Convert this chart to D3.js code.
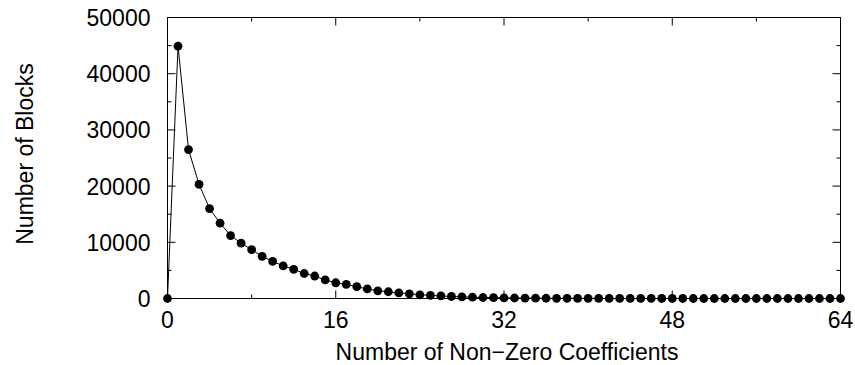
<!DOCTYPE html>
<html>
  <head>
    <meta charset="utf-8">
    <title>Non-zero coefficients per block</title>
    <script src="https://d3js.org/d3.v7.min.js" charset="utf-8"></script>
    <style>
      body{
        margin: 0;
        background: white;
      }
      svg text{
        font-family: 'Liberation Sans', Arial, sans-serif;
        fill: black;
      }
    </style>
  </head>
  <body>
    <div id="chart"></div>
    <script>

    //********************
    // data
    //********************

    // number of non-zero coefficients (x) -> number of blocks (y)
    var coefficients = d3.range(0, 65);
    var blocks = [
        0, 44900, 26500, 20300, 16000, 13400, 11200, 9850, 8700, 7500,
        6600, 5800, 5200, 4450, 4000, 3300, 2800, 2500, 2100, 1700,
        1370, 1200, 1000, 840, 660, 550, 450, 360, 290, 230,
        180, 140, 110, 90, 70, 55, 45, 35, 28, 22,
        18, 14, 11, 9, 7, 6, 5, 4, 3, 3,
        2, 2, 2, 1, 1, 1, 1, 1, 0, 0,
        0, 0, 0, 0, 0
    ];
    var xTicks = [0, 16, 32, 48, 64];
    var xMinor = [8, 24, 40, 56];
    var yTicks = [0, 10000, 20000, 30000, 40000, 50000];
    var yMinor = [5000, 15000, 25000, 35000, 45000];

    var data = coefficients.map((c, i) => ({x: c, y: blocks[i]}));

    //********************
    // setup, scales
    //********************

    var width = 855,
        height = 365,
        margin = {
            top: 17.5,
            right: 14.5,
            bottom: 66.5,
            left: 167.5
        };

    var svg = d3.select("#chart").append("svg").attr("width", width).attr("height", height);

    var xScale = d3.scaleLinear().domain([0, 64]).range([margin.left, width - margin.right]);
    var yScale = d3.scaleLinear().domain([0, 50000]).range([height - margin.bottom, margin.top]);

    var major = 8, minor = 4;
    var fontSize = "23px";

    // tick marks point inwards, mirrored on all four sides
    var frame = svg.append("g").attr("stroke", "black").attr("stroke-width", 1);

    frame.selectAll("g.xt")
        .data(xTicks.map(v => ({v: v, len: major})).concat(xMinor.map(v => ({v: v, len: minor}))))
        .enter().append("g")
        .attr("class", "xt")
        .each(function(d) {
            var g = d3.select(this);
            var x = xScale(d.v);
            g.append("line").attr("x1", x).attr("x2", x)
                .attr("y1", yScale(0)).attr("y2", yScale(0) - d.len);
            g.append("line").attr("x1", x).attr("x2", x)
                .attr("y1", yScale(50000)).attr("y2", yScale(50000) + d.len);
        });

    frame.selectAll("g.yt")
        .data(yTicks.map(v => ({v: v, len: major})).concat(yMinor.map(v => ({v: v, len: minor}))))
        .enter().append("g")
        .attr("class", "yt")
        .each(function(d) {
            var g = d3.select(this);
            var y = yScale(d.v);
            g.append("line").attr("y1", y).attr("y2", y)
                .attr("x1", xScale(0)).attr("x2", xScale(0) + d.len);
            g.append("line").attr("y1", y).attr("y2", y)
                .attr("x1", xScale(64)).attr("x2", xScale(64) - d.len);
        });

    frame.append("rect")
        .attr("x", xScale(0))
        .attr("y", yScale(50000))
        .attr("width", xScale(64) - xScale(0))
        .attr("height", yScale(0) - yScale(50000))
        .attr("fill", "none");

    // tick labels
    svg.selectAll("text.xlab")
        .data(xTicks)
        .enter().append("text")
        .attr("class", "xlab")
        .attr("x", d => xScale(d))
        .attr("y", yScale(0) + 29)
        .attr("text-anchor", "middle")
        .style("font-size", fontSize)
        .text(d => d);

    svg.selectAll("text.ylab")
        .data(yTicks)
        .enter().append("text")
        .attr("class", "ylab")
        .attr("x", xScale(0) - 17)
        .attr("y", d => yScale(d) + 8.5)
        .attr("text-anchor", "end")
        .style("font-size", fontSize)
        .text(d => d);

    // axis titles
    svg.append("text")
        .attr("x", 507)
        .attr("y", 360)
        .attr("text-anchor", "middle")
        .style("font-size", fontSize)
        .text("Number of Non\u2212Zero Coefficients");

    svg.append("text")
        .attr("transform", "translate(33, 154) rotate(-90)")
        .attr("text-anchor", "middle")
        .style("font-size", fontSize)
        .text("Number of Blocks");

    //**************
    // line + points
    //**************

    var line = d3.line()
        .x(d => xScale(d.x))
        .y(d => yScale(d.y));

    svg.append("path")
        .datum(data)
        .attr("fill", "none")
        .attr("stroke", "black")
        .attr("stroke-width", 1)
        .attr("d", line);

    svg.selectAll("circle.pt")
        .data(data)
        .enter().append("circle")
        .attr("class", "pt")
        .attr("cx", d => xScale(d.x))
        .attr("cy", d => yScale(d.y))
        .attr("r", 4.4)
        .attr("fill", "black");

    </script>
  </body>
</html>
